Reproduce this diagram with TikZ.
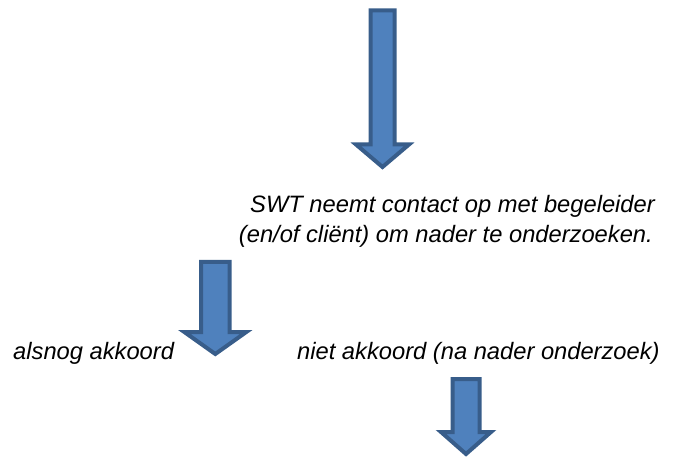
\documentclass[tikz,border=0pt]{standalone}
\usepackage{fontspec}
\setmainfont{Liberation Sans}
\definecolor{arrowfill}{HTML}{4F81BD}
\definecolor{arrowline}{HTML}{385D8A}
\tikzset{
  blockarrow/.style={fill=arrowfill, draw=arrowline, line width=4bp, line join=miter},
  label/.style={inner sep=0pt, font=\fontsize{23.8}{30}\selectfont\itshape}
}
\newcommand{\downarrowshape}[7]{% cx, shaft half, head half, top, head base, tip, name
  \draw[blockarrow] (#1-#2,#4) -- (#1+#2,#4) -- (#1+#2,#5) -- (#1+#3,#5) -- (#1,#6)
    -- (#1-#3,#5) -- (#1-#2,#5) -- cycle;
  \coordinate (#7) at (#1,#4);
}
\begin{document}
\begin{tikzpicture}[x=1bp,y=-1bp]
\useasboundingbox (0,0) rectangle (675,459);
\downarrowshape{382.5}{12}{26.5}{10.5}{144.5}{167}{a1}
\downarrowshape{215.3}{14.3}{31}{262}{332}{354}{a2}
\downarrowshape{466}{13.5}{25}{379}{432}{454}{a3}
\node[label, anchor=base east] (t1) at (655,213) {SWT neemt contact op met begeleider};
\node[label, anchor=base east] (t2) at (653,243) {(en/of cliënt) om nader te onderzoeken.};
\node[label, anchor=base west] (t3) at (13,359) {alsnog akkoord};
\node[label, anchor=base west] (t4) at (297,359) {niet akkoord (na nader onderzoek)};
\end{tikzpicture}
\end{document}
